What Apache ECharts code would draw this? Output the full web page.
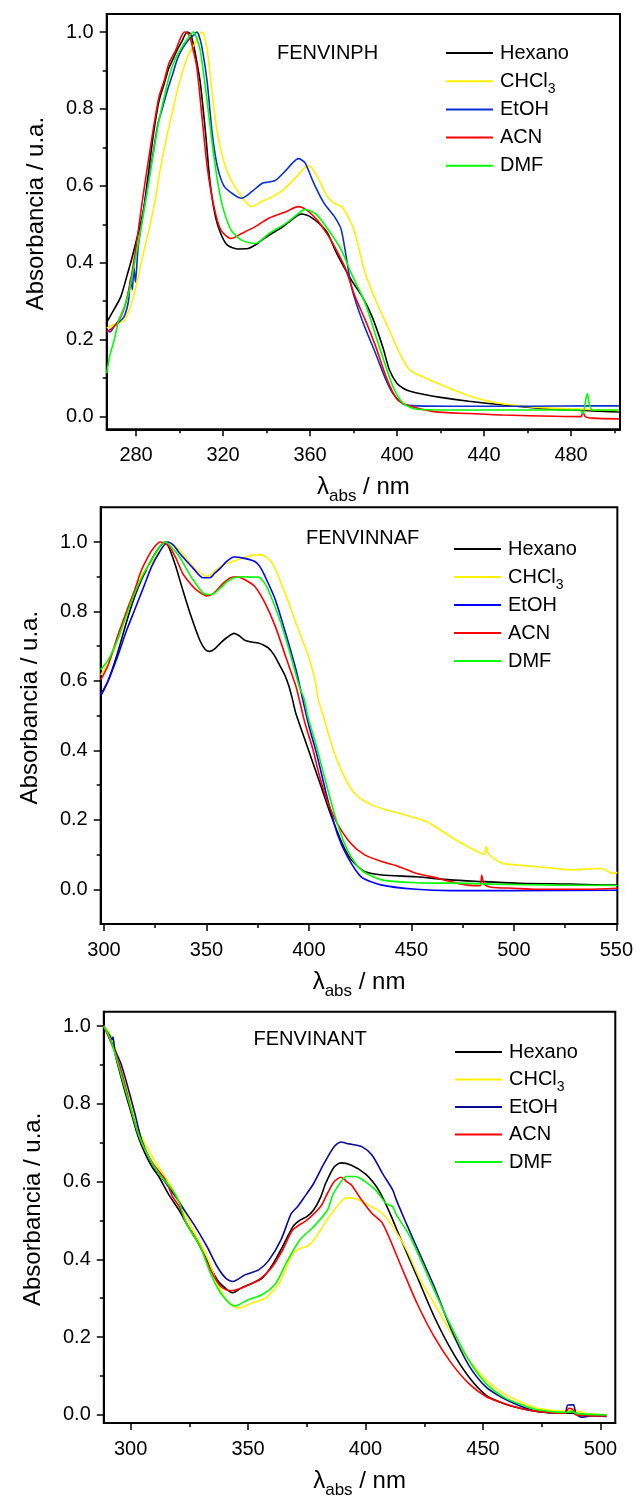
<!DOCTYPE html>
<html><head><meta charset="utf-8">
<script src="https://cdn.jsdelivr.net/npm/echarts@6/dist/echarts.min.js"></script>
<style>html,body{margin:0;padding:0;background:#fff}#chart{width:636px;height:1500px}</style>
</head><body><div id="chart"></div>
<script>
// ---------------- DATA ----------------
const solvents = ['Hexano', 'CHCl3', 'EtOH', 'ACN', 'DMF'];
const panelTitles = ['FENVINPH', 'FENVINNAF', 'FENVINANT'];
const yAxisTitle = 'Absorbancia / u.a.';

// Panel 1: FENVINPH
const p1Hexano = [[266.5,0.245],[270,0.28],[273,0.312],[276,0.37],[278,0.41],[280,0.455],[282,0.5],[283.5,0.54],[285.5,0.625],[288,0.735],[290.5,0.82],[293,0.867],[295,0.905],[297,0.93],[299,0.955],[301,0.975],[303.5,1.0],[305,0.995],[306.5,0.965],[308,0.92],[309.5,0.87],[312,0.735],[314,0.61],[316.5,0.52],[319,0.475],[322,0.446],[327,0.436],[331.5,0.437],[335,0.447],[338,0.46],[342,0.475],[346,0.488],[350,0.505],[354,0.522],[356,0.527],[358,0.525],[360,0.52],[364,0.503],[368,0.478],[371,0.44],[373,0.416],[379,0.355],[384,0.312],[388.5,0.26],[393.5,0.18],[396.5,0.121],[400,0.086],[403,0.073],[406,0.066],[412,0.058],[420,0.05],[433,0.04],[449,0.03],[465,0.022],[480,0.017],[490,0.015],[502,0.012]];
const p1CHCl3 = [[266.5,0.23],[270,0.24],[274.5,0.25],[277,0.28],[280,0.338],[282,0.39],[284,0.44],[286.5,0.5],[289,0.57],[291,0.64],[294,0.725],[297,0.8],[299.5,0.86],[301.5,0.9],[304,0.94],[306.5,0.965],[308.5,0.985],[310,1.0],[311,0.995],[312.7,0.955],[315,0.84],[317.4,0.737],[320.6,0.658],[323.7,0.615],[328.5,0.572],[333,0.546],[338,0.56],[342.7,0.572],[347.5,0.589],[353.8,0.624],[357,0.645],[359.4,0.652],[361,0.645],[363.3,0.624],[368,0.572],[371,0.555],[374.4,0.546],[377.5,0.52],[380.5,0.48],[385.4,0.372],[390.2,0.302],[396.5,0.224],[401.3,0.163],[406,0.12],[414,0.098],[425,0.072],[433,0.054],[441,0.041],[449,0.033],[464.5,0.024],[480,0.02],[490,0.018],[502,0.016]];
const p1EtOH = [[266.5,0.225],[268,0.22],[270,0.235],[272,0.245],[274.5,0.26],[276.5,0.3],[277.5,0.36],[278.3,0.33],[279,0.39],[279.7,0.35],[281,0.442],[284.2,0.563],[287.3,0.667],[290,0.76],[292,0.8],[294.5,0.85],[296.8,0.89],[299,0.93],[301.6,0.96],[303.5,0.975],[305,0.985],[306.5,0.992],[307.9,1.0],[309,0.99],[310.3,0.96],[312.7,0.87],[315,0.737],[317.4,0.65],[320.6,0.598],[325.3,0.576],[328.5,0.568],[333.2,0.585],[338,0.607],[341,0.61],[344.3,0.615],[349,0.641],[352,0.66],[354.6,0.671],[356,0.668],[357.8,0.659],[361.7,0.607],[366.4,0.555],[371.2,0.52],[374.4,0.485],[379,0.338],[383.9,0.251],[390.2,0.163],[395,0.094],[398.1,0.06],[402.9,0.033],[409.2,0.028],[430,0.027],[460,0.027],[490,0.028],[502,0.028]];
const p1ACN = [[266.5,0.22],[270,0.235],[273,0.26],[275,0.29],[278,0.37],[280.2,0.45],[282.6,0.55],[285.7,0.667],[288,0.75],[290.5,0.83],[293,0.875],[295.2,0.92],[298,0.95],[300.5,0.985],[302.3,1.0],[303.5,0.998],[304.7,0.988],[306,0.96],[307.9,0.91],[310.3,0.78],[312.7,0.65],[315.8,0.546],[319,0.485],[323.7,0.463],[328.5,0.476],[334.8,0.494],[341,0.516],[349,0.533],[354.6,0.546],[358.5,0.537],[363.3,0.511],[366,0.49],[369.6,0.459],[375.9,0.39],[380.7,0.312],[385.4,0.251],[390.2,0.182],[395,0.103],[399.7,0.047],[404.4,0.03],[417,0.013],[433,0.008],[448.7,0.004],[472.5,0.001],[484.5,0],[485.5,0.012],[486.5,0.0],[489.9,-0.004],[502,-0.006]];
const p1DMF = [[266.5,0.113],[268,0.16],[270,0.2],[272,0.25],[274.7,0.286],[277,0.33],[279,0.39],[281,0.45],[282.6,0.5],[285,0.58],[288,0.685],[290.5,0.77],[292.5,0.82],[295.2,0.884],[298,0.93],[301,0.96],[304,0.985],[306.3,1.0],[307.5,0.99],[309.5,0.953],[312.7,0.82],[315,0.71],[317.4,0.615],[319.8,0.546],[323.7,0.485],[328.5,0.459],[334.8,0.45],[341.1,0.476],[349,0.503],[355,0.53],[357.8,0.539],[360,0.535],[363.3,0.524],[369.6,0.476],[374.4,0.433],[379,0.372],[385.4,0.294],[391.8,0.182],[398.1,0.078],[402.9,0.034],[409.2,0.019],[430,0.017],[460,0.017],[484,0.017],[485.5,0.008],[486.5,0.035],[487.5,0.06],[488.5,0.03],[490,0.017],[502,0.017]];

// Panel 2: FENVINNAF
const p2Hexano = [[298.4,0.557],[302,0.6],[306.6,0.68],[311,0.77],[315,0.843],[319,0.9],[323.3,0.95],[327,0.985],[330,1.0],[332,0.98],[335,0.93],[338.4,0.863],[342.5,0.786],[346.7,0.718],[349.5,0.69],[351.7,0.685],[354,0.692],[356.8,0.709],[360,0.725],[363.5,0.737],[366,0.73],[368.5,0.718],[372,0.712],[375.2,0.709],[378,0.703],[380.2,0.695],[383,0.675],[385.2,0.651],[388,0.62],[390.3,0.584],[392,0.546],[393.6,0.507],[398.7,0.42],[405.4,0.305],[410.4,0.219],[415.5,0.142],[419,0.1],[422.2,0.075],[427.2,0.051],[435.6,0.041],[452.3,0.036],[469,0.027],[485.8,0.022],[502.6,0.017],[527.7,0.015],[547.8,0.012],[550.5,0.012]];
const p2CHCl3 = [[298.4,0.617],[302,0.65],[306.6,0.718],[311,0.8],[315,0.86],[319,0.91],[323.3,0.94],[327,0.975],[331.7,1.0],[336.7,0.978],[340,0.955],[343.4,0.93],[347,0.91],[350.1,0.901],[353,0.91],[356.8,0.93],[361,0.94],[365.2,0.949],[370,0.958],[373.6,0.963],[376.9,0.963],[379.5,0.955],[382,0.94],[384.5,0.91],[387,0.872],[390.5,0.82],[393.7,0.766],[397,0.715],[400.4,0.66],[403,0.6],[404.6,0.546],[407.1,0.497],[410.4,0.43],[413.5,0.375],[417.2,0.325],[420.5,0.29],[423.9,0.267],[430.6,0.243],[437,0.23],[444,0.219],[451,0.207],[457.4,0.195],[463,0.175],[469,0.152],[477.4,0.123],[484.1,0.103],[485.5,0.1],[486.6,0.123],[487.8,0.1],[494.2,0.075],[502,0.07],[510.9,0.065],[520,0.06],[527.7,0.056],[535,0.058],[542.8,0.06],[545,0.055],[547.8,0.046],[550.5,0.048]];
const p2EtOH = [[298.4,0.56],[302,0.6],[306.6,0.67],[311,0.745],[315,0.805],[319,0.865],[323.3,0.93],[327,0.97],[331,1.0],[334,0.99],[336.7,0.969],[340,0.947],[343.4,0.925],[348.4,0.897],[351.7,0.897],[354,0.91],[356.8,0.925],[360,0.945],[363.5,0.957],[368.5,0.953],[373.6,0.944],[376,0.93],[378.6,0.901],[383.6,0.834],[388.6,0.738],[393.7,0.632],[397,0.546],[400,0.47],[403.7,0.392],[408.8,0.267],[413.8,0.161],[418.8,0.094],[425.5,0.036],[435.6,0.012],[452.3,0.0],[469,-0.004],[500,-0.004],[550.5,-0.003]];
const p2ACN = [[298.4,0.603],[302,0.645],[306.6,0.728],[311,0.8],[315,0.862],[318,0.915],[321.6,0.959],[324.5,0.985],[327.5,1.0],[331.7,0.988],[335,0.955],[338.4,0.91],[341.5,0.885],[345.1,0.862],[350.1,0.845],[353,0.85],[355.1,0.862],[358,0.88],[361.8,0.897],[365,0.9],[368.5,0.892],[373.6,0.872],[378.6,0.824],[383.6,0.757],[388.6,0.671],[393.7,0.584],[395.3,0.546],[398,0.48],[402,0.402],[405,0.33],[408.8,0.257],[413.8,0.19],[420.5,0.132],[427.2,0.099],[435.6,0.08],[444,0.065],[452.3,0.046],[460.7,0.035],[469,0.022],[477.4,0.012],[483.5,0.01],[484.3,0.04],[485.5,0.015],[489,0.006],[500,0.003],[510.9,0.0],[536,0.0],[550.5,0.003]];
const p2DMF = [[298.4,0.632],[302,0.66],[306.6,0.718],[311,0.79],[315,0.853],[319,0.905],[323.3,0.95],[327,0.985],[330,1.0],[333,0.985],[336.7,0.959],[340,0.925],[343.4,0.892],[348.4,0.853],[352.6,0.849],[356.8,0.867],[360,0.885],[363.5,0.897],[368,0.9],[371.9,0.899],[375.2,0.899],[378,0.885],[380.2,0.862],[385.2,0.786],[390.3,0.69],[395.3,0.584],[397.8,0.546],[399.5,0.497],[403.7,0.411],[408.8,0.296],[413.8,0.19],[418.8,0.113],[425.5,0.056],[435.6,0.027],[452.3,0.019],[477.4,0.017],[494.2,0.014],[520,0.012],[550.5,0.011]];

// Panel 3: FENVINANT
const p3Hexano = [[288.6,1.0],[291.5,0.973],[294.4,0.904],[297.4,0.836],[300.3,0.776],[303.2,0.716],[306.1,0.673],[309.1,0.638],[312,0.613],[316.4,0.565],[320.8,0.525],[324,0.49],[328.1,0.45],[332.5,0.398],[336.9,0.347],[341.3,0.321],[343.5,0.314],[347.1,0.326],[351.5,0.338],[355.9,0.351],[360.3,0.385],[364.7,0.433],[369.1,0.484],[372,0.5],[375,0.51],[377.9,0.527],[380.9,0.56],[383,0.595],[386.7,0.638],[389.5,0.648],[394,0.642],[399.9,0.62],[404.3,0.59],[407.2,0.56],[411,0.51],[414.6,0.458],[421.9,0.356],[429.2,0.253],[436.5,0.167],[443.9,0.098],[451.2,0.051],[458.5,0.03],[465.8,0.017],[473.1,0.009],[485,0.004],[487.8,0.004],[495,0.0],[500.9,-0.003],[502.5,-0.002]];
const p3CHCl3 = [[288.6,1.0],[291.5,0.975],[294.4,0.926],[297.4,0.861],[300.3,0.801],[303.2,0.737],[306.1,0.698],[310.5,0.651],[316.4,0.596],[320.8,0.55],[326.6,0.476],[332.5,0.407],[336.9,0.338],[341.3,0.291],[345.7,0.274],[351.5,0.287],[357.4,0.3],[360,0.315],[363.3,0.338],[366,0.375],[369.1,0.415],[372,0.428],[375,0.433],[378,0.45],[380.9,0.476],[384,0.505],[386.7,0.527],[389,0.545],[391.8,0.558],[394,0.558],[396.9,0.553],[399.9,0.544],[402.8,0.535],[407.2,0.518],[411.6,0.484],[417.5,0.424],[423.3,0.347],[429.2,0.287],[436.5,0.21],[443.9,0.141],[451.2,0.09],[458.5,0.056],[465.8,0.034],[473.1,0.017],[485,0.01],[487.5,0.012],[495,0.002],[502.5,0.0]];
const p3EtOH = [[288.6,0.995],[290,0.985],[291.2,0.975],[292,0.965],[292.5,0.972],[293.3,0.94],[295.9,0.904],[298.8,0.844],[301.8,0.776],[304.7,0.707],[309.1,0.647],[313.5,0.609],[319.3,0.56],[322.5,0.53],[326.6,0.493],[332.5,0.433],[336.9,0.381],[340.6,0.351],[343.5,0.343],[348.6,0.36],[354.5,0.373],[358.9,0.398],[364,0.45],[368.4,0.518],[371,0.535],[373.5,0.556],[377.9,0.595],[382.3,0.646],[386.7,0.69],[389.5,0.702],[392,0.698],[394,0.696],[398.4,0.69],[402.8,0.668],[407.2,0.621],[411.6,0.578],[413.1,0.553],[416.8,0.5],[420.4,0.45],[429.2,0.33],[436.5,0.219],[443.9,0.128],[451.2,0.072],[458.5,0.043],[465.8,0.023],[473.1,0.009],[484.8,0.004],[486,0.025],[488.5,0.026],[489.5,0.003],[491.8,-0.006],[496,-0.003],[502.5,-0.004]];
const p3ACN = [[288.6,1.0],[291.5,0.96],[294.4,0.917],[297.4,0.853],[300.3,0.784],[303.2,0.724],[306.1,0.681],[310.5,0.638],[314.9,0.604],[318,0.56],[320.8,0.535],[323.7,0.493],[329.6,0.433],[334,0.373],[338.4,0.33],[342.8,0.319],[347.1,0.326],[354.5,0.347],[360.3,0.381],[364.7,0.424],[369.1,0.476],[375,0.501],[380.9,0.536],[383.8,0.57],[386.7,0.6],[389.6,0.611],[392,0.6],[394,0.591],[398.4,0.552],[402.8,0.518],[407.2,0.493],[414.6,0.39],[421.9,0.287],[429.2,0.201],[436.5,0.133],[443.9,0.081],[451.2,0.047],[458.5,0.03],[465.8,0.017],[473.1,0.009],[485,0.004],[486.5,0.017],[488,0.015],[489.5,0.0],[495,-0.002],[502.5,-0.003]];
const p3DMF = [[288.6,1.0],[291.5,0.965],[294.4,0.908],[297.4,0.844],[300.3,0.784],[303.2,0.724],[307.6,0.664],[312,0.621],[317.9,0.578],[320.8,0.545],[323.7,0.493],[329.6,0.433],[334,0.364],[338.4,0.313],[344.3,0.28],[350.1,0.296],[355.9,0.309],[361.8,0.338],[366.2,0.39],[372,0.45],[377.9,0.484],[383.8,0.527],[386,0.565],[388.1,0.587],[391.8,0.613],[395.5,0.613],[399.9,0.6],[404.3,0.578],[408.7,0.544],[411.6,0.535],[413.1,0.515],[419,0.458],[429.2,0.321],[436.5,0.227],[443.9,0.141],[451.2,0.081],[458.5,0.047],[465.8,0.027],[473.1,0.013],[486,0.006],[487.5,0.01],[490,0.003],[502.5,0.0]];

// Axis ranges and ticks
const p1XRange = [266.5, 502.5], p1YRange = [-0.033, 1.047];
const p2XRange = [298.4, 550.5], p2YRange = [-0.1, 1.1];
const p3XRange = [288.6, 506.3], p3YRange = [-0.021, 1.037];
const p1XMajor = [280, 320, 360, 400, 440, 480], p1XMinor = [300, 340, 380, 420, 460, 500];
const p2XMajor = [300, 350, 400, 450, 500, 550], p2XMinor = [325, 375, 425, 475, 525];
const p3XMajor = [300, 350, 400, 450, 500], p3XMinor = [325, 375, 425, 475];
const yMajor = [0, 0.2, 0.4, 0.6, 0.8, 1.0];
const yMinor = [0.1, 0.3, 0.5, 0.7, 0.9];

// ---------------- CHART ----------------
const FONT = "'Liberation Sans', Arial, sans-serif";
const panels = [
  { data: [p1Hexano, p1CHCl3, p1EtOH, p1ACN, p1DMF], xr: p1XRange, yr: p1YRange, xMaj: p1XMajor, xMin: p1XMinor,
    grid: { left: 106.7, top: 14, width: 513.3, height: 415.3 },
    colors: ['#000000', '#FFF000', '#0A2FD0', '#FF0000', '#00FF00'],
    title: { left: 277, top: 43 }, legend: { left: 446, top: 38 }, legendGap: -1.8 },
  { data: [p2Hexano, p2CHCl3, p2EtOH, p2ACN, p2DMF], xr: p2XRange, yr: p2YRange, xMaj: p2XMajor, xMin: p2XMinor,
    grid: { left: 100.7, top: 507.3, width: 517.3, height: 416.7 },
    colors: ['#000000', '#FFF000', '#0000FF', '#FF0000', '#00FF00'],
    title: { left: 306, top: 528 }, legend: { left: 454, top: 534 }, legendGap: -2 },
  { data: [p3Hexano, p3CHCl3, p3EtOH, p3ACN, p3DMF], xr: p3XRange, yr: p3YRange, xMaj: p3XMajor, xMin: p3XMinor,
    grid: { left: 103.8, top: 1011.7, width: 511.5, height: 411.6 },
    colors: ['#000000', '#FFF000', '#0A0A9A', '#FF0000', '#00FF00'],
    title: { left: 253.5, top: 1029 }, legend: { left: 455, top: 1037 }, legendGap: -2.5 }
];

const grids = [], xAxes = [], yAxes = [], series = [], titles = [], legends = [];
panels.forEach((p, i) => {
  grids.push(Object.assign({ show: true, borderColor: '#000', borderWidth: 2, backgroundColor: 'transparent', containLabel: false }, p.grid));
  const axLine = { show: true, onZero: false, lineStyle: { color: '#000', width: 2 } };
  xAxes.push({
    type: 'value', gridIndex: i, min: p.xr[0], max: p.xr[1], position: 'bottom',
    axisLine: axLine, splitLine: { show: false },
    axisTick: { show: true, length: 7, lineStyle: { color: '#000', width: 1.5 }, customValues: p.xMaj },
    axisLabel: { show: true, customValues: p.xMaj, margin: 16, color: '#000', fontSize: 20, fontFamily: FONT, formatter: v => String(Math.round(v)) },
    name: '{l|λ}{s|abs}{l| / nm}', nameLocation: 'middle', nameGap: 40,
    nameTextStyle: { color: '#000', fontFamily: FONT, fontSize: 24,
      rich: { l: { fontSize: 24, lineHeight: 36, fontFamily: FONT, color: '#000' },
              s: { fontSize: 17, lineHeight: 17, verticalAlign: 'bottom', fontFamily: FONT, color: '#000' } } }
  });
  xAxes.push({
    type: 'value', gridIndex: i, min: p.xr[0], max: p.xr[1], position: 'bottom',
    axisLine: { show: false, onZero: false }, splitLine: { show: false }, axisLabel: { show: false },
    axisTick: { show: true, length: 4, lineStyle: { color: '#000', width: 1.5 }, customValues: p.xMin }
  });
  yAxes.push({
    type: 'value', gridIndex: i, min: p.yr[0], max: p.yr[1], position: 'left',
    axisLine: axLine, splitLine: { show: false },
    axisTick: { show: true, length: 7, lineStyle: { color: '#000', width: 1.5 }, customValues: yMajor },
    axisLabel: { show: true, customValues: yMajor, margin: 13, color: '#000', fontSize: 20, fontFamily: FONT, formatter: v => v.toFixed(1) },
    name: yAxisTitle, nameLocation: 'middle', nameGap: 58, nameRotate: 90,
    nameTextStyle: { color: '#000', fontFamily: FONT, fontSize: 24, padding: [0, 0, 0, 16] }
  });
  yAxes.push({
    type: 'value', gridIndex: i, min: p.yr[0], max: p.yr[1], position: 'left',
    axisLine: { show: false, onZero: false }, splitLine: { show: false }, axisLabel: { show: false },
    axisTick: { show: true, length: 4, lineStyle: { color: '#000', width: 1.5 }, customValues: yMinor }
  });
  titles.push({ text: panelTitles[i], left: p.title.left, top: p.title.top, padding: 0,
    textStyle: { fontFamily: FONT, fontSize: 20, fontWeight: 'normal', color: '#000', lineHeight: 20 } });
  legends.push({
    orient: 'vertical', left: p.legend.left, top: p.legend.top, padding: 0,
    itemWidth: 47, itemHeight: 2, itemGap: p.legendGap, icon: 'rect',
    data: solvents.map(s => ({ name: 'P' + i + '_' + s })),
    formatter: n => { const s = n.split('_')[1]; return s === 'CHCl3' ? '{a|CHCl}{b|3}' : '{a|' + s + '}'; },
    textStyle: { fontFamily: FONT, fontSize: 20, color: '#000', lineHeight: 30,
      rich: { a: { fontFamily: FONT, fontSize: 20, lineHeight: 30, color: '#000', padding: [0, 0, 0, 2] },
              b: { fontFamily: FONT, fontSize: 14, lineHeight: 14, verticalAlign: 'bottom', color: '#000' } } },
    selectedMode: false
  });
  p.data.forEach((d, k) => {
    series.push({
      name: 'P' + i + '_' + solvents[k], type: 'line', xAxisIndex: 2 * i, yAxisIndex: 2 * i,
      data: d, showSymbol: false, smooth: 0.25, color: p.colors[k],
      lineStyle: { color: p.colors[k], width: 1.6 }, itemStyle: { color: p.colors[k] },
      clip: true
    });
  });
});

const chart = echarts.init(document.getElementById('chart'), null, { renderer: 'canvas' });
chart.setOption({
  animation: false, backgroundColor: '#fff',
  title: titles, legend: legends, grid: grids, xAxis: xAxes, yAxis: yAxes, series: series
});
</script></body></html>
